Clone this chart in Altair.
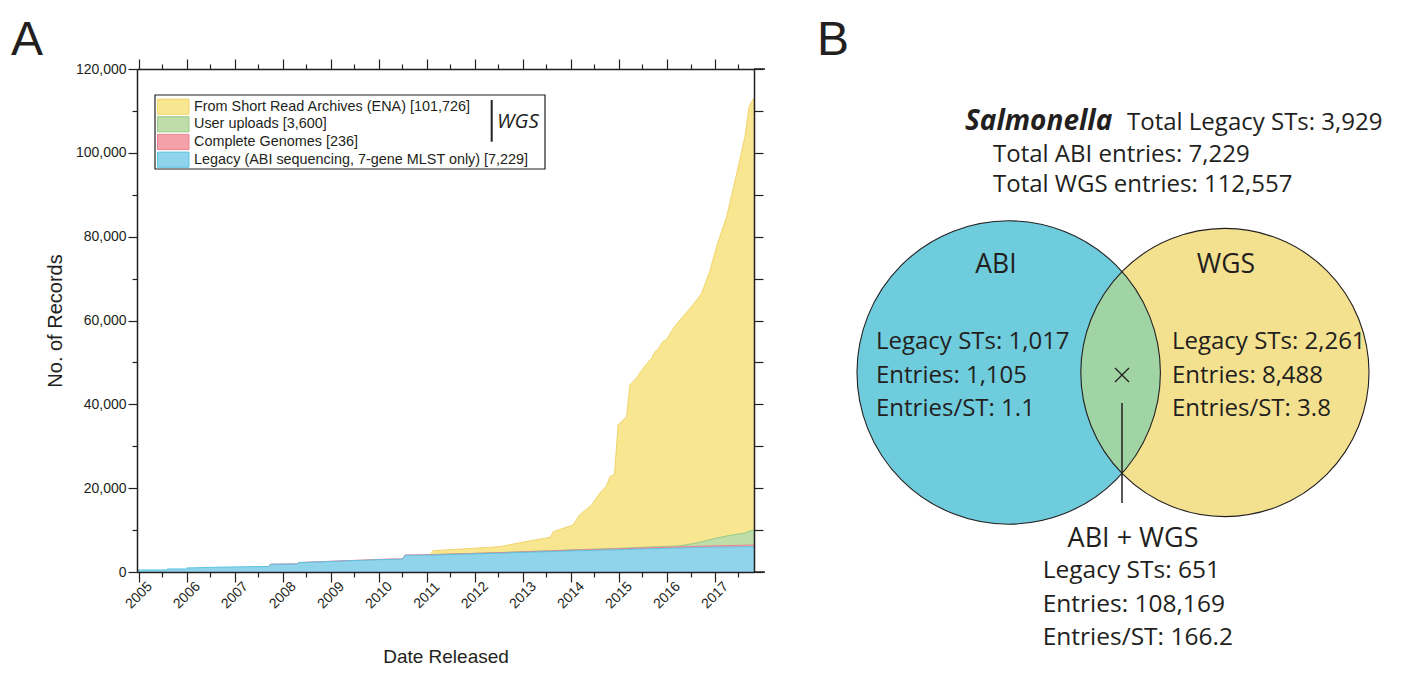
import altair as alt
import pandas as pd

# ---------------- Panel A data ----------------
dates = ["2004-12-20", "2005-07-31", "2005-08-07", "2005-12-24", "2006-01-01", "2006-07-20",
         "2007-04-20", "2007-09-20", "2007-10-01", "2008-04-20", "2008-05-01", "2009-02-05",
         "2009-06-15", "2010-03-20", "2010-07-01", "2010-07-22", "2011-01-20", "2011-02-15",
         "2011-10-05", "2012-07-12", "2012-12-10", "2013-07-01", "2013-08-01", "2013-08-22",
         "2014-01-20", "2014-03-10", "2014-06-10", "2014-08-10", "2014-10-01", "2014-10-27",
         "2014-12-01", "2014-12-28", "2015-02-17", "2015-03-03", "2015-03-28", "2015-05-19",
         "2015-07-06", "2015-09-09", "2015-10-05", "2015-10-30", "2015-12-02", "2016-01-01",
         "2016-03-03", "2016-04-12", "2016-06-21", "2016-08-18", "2016-09-24", "2016-11-24",
         "2017-01-15", "2017-04-02", "2017-06-18", "2017-08-19", "2017-09-20", "2017-10-20",
         "2017-10-27"]

legacy = [480, 480, 720, 720, 950, 1120, 1270, 1300, 1830, 1900,
          2220, 2550, 2700, 3020, 3050, 3980, 4030, 4040, 4250, 4480,
          4650, 4850, 4880, 4900, 5050, 5080, 5150, 5200, 5250, 5270,
          5300, 5320, 5360, 5380, 5400, 5450, 5500, 5560, 5580, 5600,
          5630, 5650, 5700, 5730, 5780, 5820, 5850, 5890, 5920, 5960,
          5990, 6010, 6020, 6040, 6040]

complete_genomes = [0, 0, 0, 0, 0, 0, 0, 30, 30, 40,
                    40, 60, 60, 80, 80, 80, 100, 100, 100, 120,
                    130, 150, 150, 150, 180, 180, 190, 190, 200, 200,
                    200, 200, 210, 210, 210, 220, 230, 240, 240, 250,
                    250, 260, 270, 280, 290, 300, 310, 320, 330, 340,
                    360, 380, 390, 400, 400]

user_uploads = [0, 0, 0, 0, 0, 0, 0, 0, 0, 0,
                0, 0, 0, 0, 0, 0, 20, 20, 30, 40,
                50, 60, 60, 60, 80, 90, 100, 110, 110, 120,
                120, 130, 140, 140, 150, 160, 170, 180, 180, 190,
                200, 200, 220, 250, 550, 800, 1050, 1500, 1850, 2300,
                2650, 2900, 3300, 3550, 3600]

ena = [0, 0, 0, 0, 0, 0, 0, 0, 0, 0,
       0, 0, 0, 0, 0, 0, 0, 900, 1110, 1400,
       2160, 3050, 3240, 4510, 5900, 8250, 10550, 13280, 15000, 17150,
       17680, 29420, 30960, 31270, 38860, 40530, 42700, 45010, 46570, 47100,
       48870, 49340, 52410, 53840, 56080, 57980, 59280, 63940, 69520, 76170,
       86130, 94570, 101310, 102800, 102750]

series_labels = ["From Short Read Archives (ENA) [101,726]",
                 "User uploads [3,600]",
                 "Complete Genomes [236]",
                 "Legacy (ABI sequencing, 7-gene MLST only) [7,229]"]
stack_rank = [4, 3, 2, 1]
wgs_label = "WGS"

year_ticks = list(range(2005, 2018))
count_ticks = list(range(0, 120001, 10000))

axis_titles = ["Date Released", "No. of Records"]
panel_letters = ["A", "B"]

# ---------------- Panel B text ----------------
venn_title = "Salmonella"
totals = ["Total Legacy STs: 3,929", "Total ABI entries: 7,229", "Total WGS entries: 112,557"]
set_names = ["ABI", "WGS", "ABI + WGS"]
abi_only = ["Legacy STs: 1,017", "Entries: 1,105", "Entries/ST: 1.1"]
wgs_only = ["Legacy STs: 2,261", "Entries: 8,488", "Entries/ST: 3.8"]
both_sets = ["Legacy STs: 651", "Entries: 108,169", "Entries/ST: 166.2"]

# ---------------- styles ----------------
INK = "#231F20"
AXIS_FONT = "Liberation Sans"
VENN_FONT = "Open Sans"
series_fill = ["#F8E690", "#BEDDA8", "#F4A1A9", "#8FD4EA"]
series_line = ["#F2D46B", "#98CA86", "#EC8090", "#5CC3E2"]
venn_fill = ["#6FCCDD", "#F3E18F", "#A0D4A5"]

W, H = 617, 503

series_values = [ena, user_uploads, complete_genomes, legacy]
rows = []
for label, values, rank in zip(series_labels, series_values, stack_rank):
    for d, v in zip(dates, values):
        rows.append({"date": d, "series": label, "value": v, "rank": rank})
df = pd.DataFrame(rows)

x_scale = alt.Scale(domain=[alt.DateTime(year=2004, month=12, date=20),
                            alt.DateTime(year=2017, month=10, date=27)], nice=False)
y_scale = alt.Scale(domain=[0, 120000], nice=False, zero=False)
fill_scale = alt.Scale(domain=series_labels, range=series_fill)
line_scale = alt.Scale(domain=series_labels, range=series_line)

half_years = [alt.DateTime(year=y, month=m, date=1) for y in year_ticks for m in (1, 7)]
is_year = "month(datum.value) == 0"
is_major = "datum.value % 20000 == 0"

axis_style = dict(domainColor=INK, domainWidth=1.5, tickColor=INK, tickWidth=1.2,
                  grid=False, zindex=1)

bottom_axis = alt.Axis(
    orient="bottom", values=half_years,
    labelExpr=f"{is_year} ? timeFormat(datum.value, '%Y') : ''",
    tickSize={"condition": {"test": is_year, "value": 10}, "value": 5},
    labelAngle=315, labelAlign="center", labelBaseline="middle", labelPadding=13,
    labelFont=AXIS_FONT, labelFontSize=14, labelColor=INK,
    labelOverlap=False, labelFlush=False,
    title=axis_titles[0], titleFont=AXIS_FONT, titleFontSize=19, titleFontWeight="normal",
    titleColor=INK, titleY=90, titleBaseline="alphabetic",
    **axis_style)

left_axis = alt.Axis(
    orient="left", values=count_ticks,
    labelExpr=f"{is_major} ? format(datum.value, ',') : ''",
    tickSize={"condition": {"test": is_major, "value": 9}, "value": 5},
    labelPadding=2, labelFont=AXIS_FONT, labelFontSize=14, labelColor=INK,
    labelOverlap=False,
    title=axis_titles[1], titleFont=AXIS_FONT, titleFontSize=20, titleFontWeight="normal",
    titleColor=INK, titleX=-82, titleBaseline="middle",
    **axis_style)

top_axis = alt.Axis(
    orient="top", values=half_years, labels=False, title="",
    tickSize={"condition": {"test": is_year, "value": 10}, "value": 5},
    **axis_style)

right_axis = alt.Axis(orient="right", values=count_ticks, labels=False, title="",
                      tickSize=9, **axis_style)

base = alt.Chart(df).transform_stack(
    stack="value", groupby=["date"], as_=["y0", "y1"],
    sort=[alt.SortField("rank", order="ascending")])

areas = base.mark_area(interpolate="linear").encode(
    x=alt.X("date:T", scale=x_scale, axis=bottom_axis),
    y=alt.Y("y1:Q", scale=y_scale, axis=left_axis),
    y2="y0:Q",
    color=alt.Color("series:N", scale=fill_scale, legend=None),
)

edges = base.transform_filter("datum.value > 0").mark_line(strokeWidth=1).encode(
    x=alt.X("date:T", scale=x_scale, axis=None),
    y=alt.Y("y1:Q", scale=y_scale, axis=None),
    stroke=alt.Stroke("series:N", scale=line_scale, legend=None),
)

frame = alt.Chart(df).mark_point(opacity=0).encode(
    x=alt.X("date:T", scale=x_scale, axis=top_axis),
    y=alt.Y("value:Q", scale=y_scale, axis=right_axis),
)

one = pd.DataFrame({"k": [0]})


def text(t, x, y, size, font=VENN_FONT, align="left", baseline="alphabetic",
         weight="normal", style="normal"):
    return alt.Chart(one).mark_text(
        text=t, align=align, baseline=baseline, font=font, fontSize=size,
        fontWeight=weight, fontStyle=style, color=INK
    ).encode(x=alt.value(x), y=alt.value(y))


def rule(x, y, x2=None, y2=None, width=1.5):
    enc = dict(x=alt.value(x), y=alt.value(y))
    if x2 is not None:
        enc["x2"] = alt.value(x2)
    if y2 is not None:
        enc["y2"] = alt.value(y2)
    return alt.Chart(one).mark_rule(color=INK, strokeWidth=width).encode(**enc)


def symbol(shape, x, y, size, fill=None, stroke=None, width=1.0):
    if fill is not None:
        m = alt.Chart(one).mark_point(shape=shape, size=size, filled=True, color=fill,
                                      opacity=1, strokeWidth=0)
    else:
        m = alt.Chart(one).mark_point(shape=shape, size=size, filled=False, color=stroke,
                                      opacity=1, strokeWidth=width)
    return m.encode(x=alt.value(x), y=alt.value(y))


layers = [areas, edges, frame]

# axis-line overhang at the right corners
layers.append(rule(W, H, x2=W + 11))
layers.append(rule(W, 0, x2=W + 11))

# legend box
layers.append(alt.Chart(one).mark_rect(fill="white", stroke=INK, strokeWidth=1.2).encode(
    x=alt.value(18), x2=alt.value(408), y=alt.value(26), y2=alt.value(100)))
row_centers = [37.7, 55.3, 73.0, 90.7]
for lab, fc, lc, cy in zip(series_labels, series_fill, series_line, row_centers):
    layers.append(alt.Chart(one).mark_rect(fill=fc, stroke=lc, strokeWidth=1).encode(
        x=alt.value(20.5), x2=alt.value(52), y=alt.value(cy - 7.6), y2=alt.value(cy + 7.6)))
    layers.append(text(lab, 57, cy, 14.4, font=AXIS_FONT, baseline="middle"))
layers.append(rule(354.7, 31, y2=72.7, width=2))
layers.append(text(wgs_label, 360, 52.7, 20.5, font=VENN_FONT, baseline="middle", style="italic"))

# panel letters
layers.append(text(panel_letters[0], -126, -14, 48, font=AXIS_FONT))
layers.append(text(panel_letters[1], 680, -14, 48, font=AXIS_FONT))

# ---------------- Venn diagram ----------------
cyv = 303.5
cxL, rL = 871.7, 151.7
cxR, rR = 1087.9, 144.1
cxI, half = 985.0, 100.9
lens = (f"M0,{-half}A{rL},{rL},0,0,1,0,{half}"
        f"A{rR},{rR},0,0,1,0,{-half}Z")

layers.append(symbol("circle", cxL, cyv, (2 * rL) ** 2, fill=venn_fill[0]))
layers.append(symbol("circle", cxR, cyv, (2 * rR) ** 2, fill=venn_fill[1]))
layers.append(symbol(lens, cxI, cyv, 4, fill=venn_fill[2]))
layers.append(symbol("circle", cxL, cyv, (2 * rL) ** 2, stroke=INK, width=1.1))
layers.append(symbol("circle", cxR, cyv, (2 * rR) ** 2, stroke=INK, width=1.1))
layers.append(symbol("M-1,-1L1,1M1,-1L-1,1", cxI, 306, 196, stroke=INK, width=1.3))
layers.append(rule(cxI, 334, y2=434, width=1.5))

layers.append(text(venn_title, 828, 61, 28, weight="bold", style="italic"))
layers.append(text(totals[0], 990, 61, 24))
layers.append(text(totals[1], 856, 92.7, 24))
layers.append(text(totals[2], 856, 123, 24))

layers.append(text(set_names[0], 859, 204, 26.5, align="center"))
layers.append(text(set_names[1], 1089, 204, 26.5, align="center"))
layers.append(text(set_names[2], 996, 478.3, 27, align="center"))

for i, yb in enumerate([280, 313.5, 347]):
    layers.append(text(abi_only[i], 739, yb, 24))
    layers.append(text(wgs_only[i], 1035, yb, 24))
for i, yb in enumerate([509.3, 542.7, 576]):
    layers.append(text(both_sets[i], 905.7, yb, 24.5))

chart = alt.layer(*layers).resolve_axis(x="independent", y="independent").properties(
    width=W, height=H,
    autosize=alt.AutoSizeParams(type="none"),
    padding={"left": 129, "top": 61, "right": 650, "bottom": 93},
).configure_view(stroke=None)

chart.save("out.html", embed_options={"renderer": "svg", "actions": False})
